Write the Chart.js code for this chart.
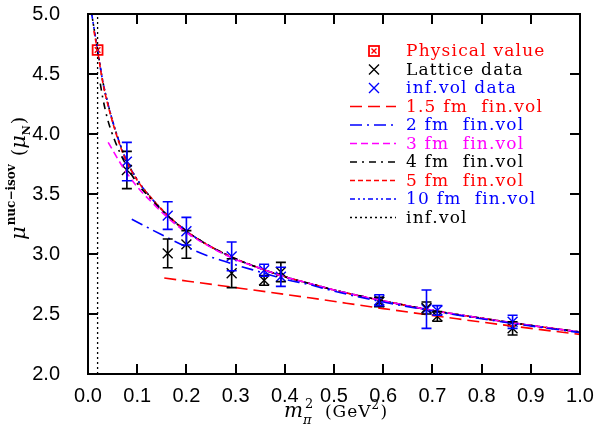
<!DOCTYPE html>
<html>
<head>
<meta charset="utf-8">
<script src="https://cdn.jsdelivr.net/npm/chart.js@4.4.0/dist/chart.umd.min.js"></script>
<style>
  html, body { margin: 0; padding: 0; background: #fff; }
  #wrap { position: relative; width: 594px; height: 433px; }
  #myChart { display: block; }
  .tk { position: absolute; background: #000; }
</style>
</head>
<body>
<div id="wrap"><canvas id="myChart" width="594" height="433"></canvas></div>
<script>
// values (x = m_pi^2 in GeV^2, y = mu in nuclear magnetons)
var physX = [0.0195];
var physY = [4.70];

var latX   = [0.079, 0.162, 0.200, 0.292, 0.358, 0.392, 0.592, 0.688, 0.710, 0.863];
var latY   = [3.70, 3.005, 3.08, 2.84, 2.78, 2.85, 2.60, 2.55, 2.48, 2.38];
var latErr = [0.155, 0.12, 0.115, 0.12, 0.04, 0.08, 0.04, 0.05, 0.04, 0.055];

var infDataX   = [0.079, 0.162, 0.200, 0.292, 0.358, 0.392, 0.592, 0.688, 0.710, 0.863];
var infDataY   = [3.77, 3.32, 3.19, 2.98, 2.865, 2.81, 2.615, 2.54, 2.53, 2.435];
var infDataErr = [0.16, 0.115, 0.115, 0.12, 0.05, 0.08, 0.045, 0.16, 0.04, 0.055];

// fit curves
var infVolX = [0.0075, 0.0195, 0.03, 0.04, 0.055, 0.075, 0.1, 0.13, 0.16, 0.2, 0.25, 0.3, 0.35, 0.4, 0.45, 0.5, 0.6, 0.7, 0.8, 0.9, 1.0];
var infVolY = [5.0, 4.70, 4.44, 4.26, 4.04, 3.81, 3.62, 3.46, 3.33, 3.19, 3.06, 2.96, 2.88, 2.81, 2.755, 2.70, 2.61, 2.53, 2.465, 2.405, 2.35];

var fm10X = [0.0075, 0.0195, 0.03, 0.04, 0.055, 0.075, 0.1, 0.13, 0.16, 0.2, 0.25, 0.3, 0.35, 0.4, 0.45, 0.5, 0.6, 0.7, 0.8, 0.9, 1.0];
var fm10Y = [5.0, 4.70, 4.44, 4.26, 4.04, 3.81, 3.62, 3.46, 3.33, 3.19, 3.06, 2.96, 2.88, 2.81, 2.755, 2.70, 2.61, 2.53, 2.465, 2.405, 2.35];

var fm5X = [0.012, 0.0195, 0.03, 0.04, 0.055, 0.075, 0.1, 0.13, 0.16, 0.2, 0.25, 0.3, 0.35, 0.4, 0.45, 0.5, 0.6, 0.7, 0.8, 0.9, 1.0];
var fm5Y = [4.86, 4.69, 4.43, 4.25, 4.03, 3.80, 3.615, 3.46, 3.33, 3.19, 3.06, 2.96, 2.88, 2.81, 2.755, 2.70, 2.61, 2.53, 2.465, 2.405, 2.35];

var fm4X = [0.025, 0.03, 0.04, 0.055, 0.075, 0.1, 0.13, 0.16, 0.2, 0.25, 0.3, 0.35, 0.4, 0.45, 0.5, 0.6, 0.7, 0.8, 0.9, 1.0];
var fm4Y = [4.42, 4.30, 4.12, 3.94, 3.76, 3.59, 3.45, 3.325, 3.19, 3.06, 2.96, 2.88, 2.81, 2.755, 2.70, 2.61, 2.53, 2.465, 2.405, 2.35];

var fm3X = [0.041, 0.07, 0.1, 0.13, 0.16, 0.2, 0.25, 0.3, 0.35, 0.4, 0.45, 0.5, 0.6, 0.7, 0.8, 0.9, 1.0];
var fm3Y = [3.93, 3.73, 3.56, 3.43, 3.31, 3.18, 3.055, 2.955, 2.88, 2.81, 2.755, 2.70, 2.61, 2.53, 2.465, 2.405, 2.35];

var fm2X = [0.089, 0.15, 0.2, 0.24, 0.3, 0.35, 0.4, 0.45, 0.5, 0.6, 0.7, 0.8, 0.9, 1.0];
var fm2Y = [3.29, 3.16, 3.06, 2.99, 2.91, 2.85, 2.79, 2.745, 2.69, 2.60, 2.525, 2.46, 2.40, 2.345];

var fm15X = [0.155, 0.3, 0.45, 0.6, 0.75, 0.9, 1.0];
var fm15Y = [2.80, 2.72, 2.635, 2.545, 2.46, 2.38, 2.33];

var xTicks = [0, 0.1, 0.2, 0.3, 0.4, 0.5, 0.6, 0.7, 0.8, 0.9, 1.0];
var yTicks = [2.0, 2.5, 3.0, 3.5, 4.0, 4.5, 5.0];

var legendLabels = ['Physical value', 'Lattice data', 'inf.vol data', '1.5 fm  fin.vol', '2 fm  fin.vol',
  '3 fm  fin.vol', '4 fm  fin.vol', '5 fm  fin.vol', '10 fm  fin.vol', 'inf.vol'];

function pts(xs, ys) {
  return xs.map(function (x, i) { return { x: x, y: ys[i] }; });
}

var RED = '#ff0000', BLUE = '#0000ff', MAG = '#ff00ff', BLK = '#000000';

function curve(label, xs, ys, color, dash) {
  return {
    label: label, data: pts(xs, ys), showLine: true, borderColor: color,
    borderWidth: 1.6, borderDash: dash, pointRadius: 0, fill: false,
    cubicInterpolationMode: 'monotone'
  };
}

var styles = [
  { type: 'mark', color: RED },
  { type: 'cross', color: BLK },
  { type: 'cross', color: BLUE },
  { type: 'line', color: RED, dash: [12, 6] },
  { type: 'line', color: BLUE, dash: [12, 5, 2, 5] },
  { type: 'line', color: MAG, dash: [7, 4] },
  { type: 'line', color: BLK, dash: [7, 5, 2, 5] },
  { type: 'line', color: RED, dash: [5, 3] },
  { type: 'line', color: BLUE, dash: [5, 3, 2, 3, 2, 3] },
  { type: 'line', color: BLK, dash: [2, 3] }
];

// text with extra space between letters, one glyph at a time
function spaced(c, str, x, y, sp) {
  for (var i = 0; i < str.length; i++) {
    c.fillText(str[i], x, y);
    x += c.measureText(str[i]).width + sp;
  }
  return x;
}

var errorBars = {
  id: 'errorBars',
  afterDatasetsDraw: function (chart) {
    var c = chart.ctx, xs = chart.scales.x, ys = chart.scales.y;
    chart.data.datasets.forEach(function (ds) {
      if (!ds.errors) return;
      c.save();
      c.setLineDash([]);
      c.strokeStyle = ds.borderColor;
      c.lineWidth = 1.6;
      ds.data.forEach(function (p, i) {
        var px = xs.getPixelForValue(p.x);
        var top = ys.getPixelForValue(p.y + ds.errors[i]);
        var bot = ys.getPixelForValue(p.y - ds.errors[i]);
        c.beginPath();
        c.moveTo(px, top); c.lineTo(px, bot);
        c.moveTo(px - 5, top); c.lineTo(px + 5, top);
        c.moveTo(px - 5, bot); c.lineTo(px + 5, bot);
        c.stroke();
      });
      c.restore();
    });
  }
};

var annot = {
  id: 'annot',
  afterDraw: function (chart) {
    var c = chart.ctx;
    c.save();
    c.setLineDash([]);

    // legend
    var y0 = 51, dy = 18.5;
    c.font = '17px "DejaVu Serif"';
    c.textBaseline = 'middle';
    styles.forEach(function (s, i) {
      var y = y0 + i * dy;
      c.strokeStyle = s.color;
      c.fillStyle = s.color;
      if (s.type === 'mark') {
        c.lineWidth = 1.8;
        c.strokeRect(369, Math.round(y) - 5, 10, 10);
        c.lineWidth = 1.4;
        c.beginPath();
        c.moveTo(371.5, y - 2.5); c.lineTo(376.5, y + 2.5);
        c.moveTo(376.5, y - 2.5); c.lineTo(371.5, y + 2.5);
        c.stroke();
      } else if (s.type === 'cross') {
        c.lineWidth = 1.4;
        c.beginPath();
        c.moveTo(369, y - 5); c.lineTo(379, y + 5);
        c.moveTo(379, y - 5); c.lineTo(369, y + 5);
        c.stroke();
      } else {
        c.lineWidth = 1.6;
        c.setLineDash(s.dash);
        c.beginPath();
        c.moveTo(350, y); c.lineTo(396, y);
        c.stroke();
        c.setLineDash([]);
      }
      spaced(c, legendLabels[i], 406, y + 1, 1.2);
    });

    // x axis title: m_pi^2 (GeV^2)
    c.fillStyle = BLK;
    c.textBaseline = 'alphabetic';
    var bx = 284, by = 417;
    c.font = 'italic 20px "DejaVu Serif"';
    c.fillText('m', bx, by);
    var mw = c.measureText('m').width;
    c.font = 'italic 13px "DejaVu Serif"';
    c.fillText('\u03c0', bx + mw, by + 7);
    c.font = '13px "DejaVu Serif"';
    c.fillText('2', bx + mw + 2, by - 9);
    c.font = '17px "DejaVu Serif"';
    var gx = spaced(c, '(GeV', bx + mw + 22, by, 1);
    c.font = '12px "DejaVu Serif"';
    c.fillText('2', gx, by - 8);
    c.font = '17px "DejaVu Serif"';
    c.fillText(')', gx + 9, by);

    // y axis title: mu^{nuc-isov} (mu_N)
    c.save();
    c.translate(25, 240);
    c.rotate(-Math.PI / 2);
    var cx = 0;
    c.font = 'italic 21px "DejaVu Serif"';
    c.fillText('\u03bc', cx, 0);
    cx += c.measureText('\u03bc').width + 1;
    c.font = 'bold 12px "DejaVu Serif"';
    c.fillText('nuc\u2212isov', cx, -10);
    cx += c.measureText('nuc\u2212isov').width + 8;
    c.font = '19px "DejaVu Serif"';
    c.fillText('(', cx, 0);
    cx += c.measureText('(').width;
    c.font = 'italic 21px "DejaVu Serif"';
    c.fillText('\u03bc', cx, 0);
    cx += c.measureText('\u03bc').width;
    c.font = 'bold 11px "DejaVu Serif"';
    c.fillText('N', cx, 5);
    cx += c.measureText('N').width + 1;
    c.font = '19px "DejaVu Serif"';
    c.fillText(')', cx, 0);
    c.restore();

    c.restore();
  }
};

var chart = new Chart(document.getElementById('myChart').getContext('2d'), {
  type: 'scatter',
  data: {
    datasets: [
      { label: 'phys line', data: [{ x: physX[0], y: yTicks[0] }, { x: physX[0], y: yTicks[yTicks.length - 1] }],
        showLine: true, borderColor: BLK, borderWidth: 1.3, borderDash: [2, 3], pointRadius: 0 },
      curve('1.5 fm fin.vol', fm15X, fm15Y, RED, [12, 6]),
      curve('2 fm fin.vol', fm2X, fm2Y, BLUE, [12, 5, 2, 5]),
      curve('3 fm fin.vol', fm3X, fm3Y, MAG, [7, 4]),
      curve('4 fm fin.vol', fm4X, fm4Y, BLK, [7, 5, 2, 5]),
      curve('5 fm fin.vol', fm5X, fm5Y, RED, [5, 3]),
      curve('10 fm fin.vol', fm10X, fm10Y, BLUE, [5, 3, 2, 3, 2, 3]),
      curve('inf.vol', infVolX, infVolY, BLK, [2, 3]),
      { label: 'Lattice data', data: pts(latX, latY), errors: latErr, pointStyle: 'crossRot',
        pointRadius: 7, pointBorderWidth: 1.4, borderColor: BLK, backgroundColor: BLK },
      { label: 'inf.vol data', data: pts(infDataX, infDataY), errors: infDataErr, pointStyle: 'crossRot',
        pointRadius: 7, pointBorderWidth: 1.4, borderColor: BLUE, backgroundColor: BLUE },
      { label: 'Physical value', data: pts(physX, physY), pointStyle: 'rect', pointRadius: 7,
        pointBorderWidth: 1.8, borderColor: RED, backgroundColor: 'rgba(0,0,0,0)' },
      { label: 'Physical value x', data: pts(physX, physY), pointStyle: 'crossRot', pointRadius: 4,
        pointBorderWidth: 1.4, borderColor: RED, backgroundColor: RED }
    ]
  },
  options: {
    responsive: false,
    animation: false,
    devicePixelRatio: 1,
    layout: { padding: { top: 14, right: 14, left: 0, bottom: 0 } },
    plugins: { legend: { display: false }, tooltip: { enabled: false } },
    scales: {
      x: {
        type: 'linear', min: 0, max: 1,
        afterFit: function (s) { s.height = 59; s.paddingLeft = 0; s.paddingRight = 0; },
        afterBuildTicks: function (s) { s.ticks = xTicks.map(function (v) { return { value: v }; }); },
        grid: { display: false },
        border: { display: false },
        ticks: { padding: 2, color: BLK, font: { family: '"Liberation Sans"', size: 20 },
          maxRotation: 0, callback: function (v) { return v.toFixed(1); } }
      },
      y: {
        type: 'linear', min: 2, max: 5,
        afterFit: function (s) { s.width = 88; s.paddingTop = 0; s.paddingBottom = 0; },
        afterBuildTicks: function (s) { s.ticks = yTicks.map(function (v) { return { value: v }; }); },
        grid: { display: false },
        border: { display: false },
        ticks: { padding: 20, color: BLK, font: { family: '"Liberation Sans"', size: 20 },
          callback: function (v) { return v.toFixed(1); } }
      }
    }
  },
  plugins: [errorBars, annot]
});

// plot box and inward ticks on all four sides, placed from the chart's own scales
(function () {
  var wrap = document.getElementById('wrap');
  var xs = chart.scales.x, ys = chart.scales.y;
  var L = Math.round(xs.getPixelForValue(0)), R = Math.round(xs.getPixelForValue(1));
  var T = Math.round(ys.getPixelForValue(5)), B = Math.round(ys.getPixelForValue(2));
  function strip(x, y, w, h) {
    var d = document.createElement('div');
    d.className = 'tk';
    d.style.left = x + 'px'; d.style.top = y + 'px';
    d.style.width = w + 'px'; d.style.height = h + 'px';
    wrap.appendChild(d);
  }
  strip(L - 1, T - 1, R - L + 2, 2);
  strip(L - 1, B - 1, R - L + 2, 2);
  strip(L - 1, T - 1, 2, B - T + 2);
  strip(R - 1, T - 1, 2, B - T + 2);
  xTicks.forEach(function (t) {
    var px = Math.round(xs.getPixelForValue(t));
    strip(px - 1, B - 10, 2, 10);
    strip(px - 1, T, 2, 10);
  });
  yTicks.forEach(function (t) {
    var py = Math.round(ys.getPixelForValue(t));
    strip(L, py - 1, 10, 2);
    strip(R - 10, py - 1, 10, 2);
  });
})();
</script>
</body>
</html>
